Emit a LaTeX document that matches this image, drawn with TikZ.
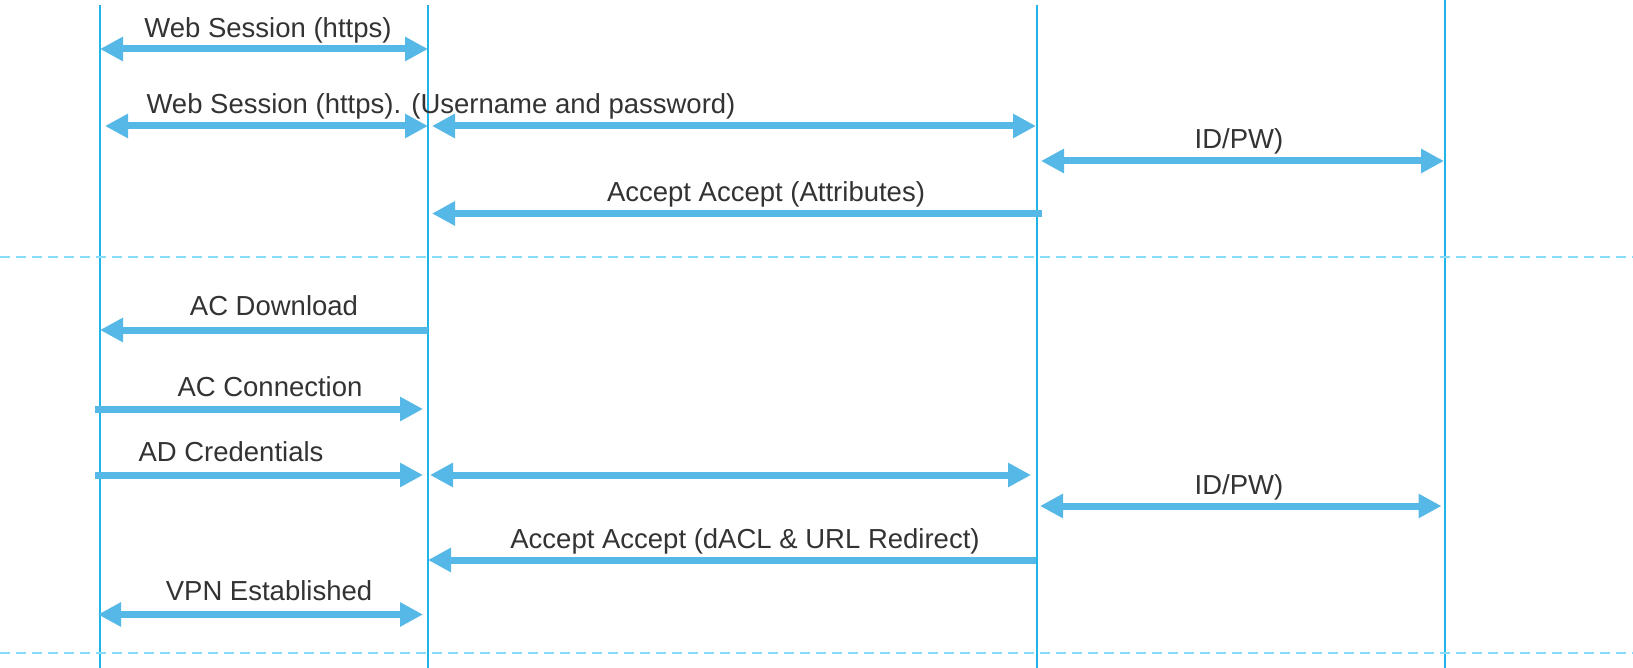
\documentclass[tikz,border=0pt]{standalone}
\usepackage{fontspec}
\setmainfont{Liberation Sans}
\usetikzlibrary{arrows.meta}
\definecolor{life}{HTML}{1FB5E6}
\definecolor{msg}{HTML}{56B8E6}
\definecolor{sep}{HTML}{86DDFB}
\definecolor{txt}{HTML}{333333}
\begin{document}
\begin{tikzpicture}[x=1pt,y=-1pt,
  lifeline/.style={draw=life,line width=2pt},
  sepline/.style={draw=sep,line width=1.5pt,dash pattern=on 10pt off 6pt},
  msgarrow/.style={draw=msg,line width=7pt,-{Triangle[length=23pt,width=23pt]}},
  biarrow/.style={draw=msg,line width=7pt,{Triangle[length=23pt,width=23pt]}-{Triangle[length=23pt,width=23pt]}},
  lbl/.style={font=\fontsize{27.5}{30}\selectfont,text=txt,inner sep=0pt,anchor=base}]
\useasboundingbox[fill=white] (0,0) rectangle (1633,668);
% lifelines
\coordinate (At) at (100,5);  \coordinate (Ab) at (100,668);
\coordinate (Bt) at (428,5);  \coordinate (Bb) at (428,668);
\coordinate (Ct) at (1037,5); \coordinate (Cb) at (1037,668);
\coordinate (Dt) at (1445,0); \coordinate (Db) at (1445,668);
\draw[lifeline] (At) -- (Ab);
\draw[lifeline] (Bt) -- (Bb);
\draw[lifeline] (Ct) -- (Cb);
\draw[lifeline] (Dt) -- (Db);
% separators
\coordinate (S1l) at (0,257); \coordinate (S1r) at (1633,257);
\coordinate (S2l) at (0,653); \coordinate (S2r) at (1633,653);
\draw[sepline] (S1l) -- (S1r);
\draw[sepline] (S2l) -- (S2r);
% message 1
\coordinate (m1a) at (100,49); \coordinate (m1b) at (428,49);
\draw[biarrow] (m1a) -- (m1b);
\node[lbl] (t1) at (268,38) {Web Session (https)};
% message 2
\coordinate (m2a) at (105,126); \coordinate (m2b) at (428,126);
\coordinate (m2c) at (432,126); \coordinate (m2d) at (1036,126);
\draw[biarrow] (m2a) -- (m2b);
\draw[biarrow] (m2c) -- (m2d);
\node[lbl] (t2) at (441,114) {Web Session (https). (Username and password)};
% message 3
\coordinate (m3a) at (1041,161); \coordinate (m3b) at (1444,161);
\draw[biarrow] (m3a) -- (m3b);
\node[lbl] (t3) at (1239,148.5) {ID/PW)};
% message 4
\coordinate (m4a) at (1042,213.5); \coordinate (m4b) at (432,213.5);
\draw[msgarrow] (m4a) -- (m4b);
\node[lbl] (t4) at (766,201.5) {Accept Accept (Attributes)};
% message 5
\coordinate (m5a) at (428,330); \coordinate (m5b) at (100,330);
\draw[msgarrow] (m5a) -- (m5b);
\node[lbl] (t5) at (274,316) {AC Download};
% message 6
\coordinate (m6a) at (95,409); \coordinate (m6b) at (423,409);
\draw[msgarrow] (m6a) -- (m6b);
\node[lbl] (t6) at (270,396) {AC Connection};
% message 7
\coordinate (m7a) at (95,475); \coordinate (m7b) at (423,475);
\coordinate (m7c) at (430,475); \coordinate (m7d) at (1031,475);
\draw[msgarrow] (m7a) -- (m7b);
\draw[biarrow] (m7c) -- (m7d);
\node[lbl] (t7) at (231,461) {AD Credentials};
% message 8
\coordinate (m8a) at (1040,506); \coordinate (m8b) at (1441.5,506);
\draw[biarrow] (m8a) -- (m8b);
\node[lbl] (t8) at (1239,494) {ID/PW)};
% message 9
\coordinate (m9a) at (1036,560); \coordinate (m9b) at (428,560);
\draw[msgarrow] (m9a) -- (m9b);
\node[lbl] (t9) at (745,548.5) {Accept Accept (dACL \& URL Redirect)};
% message 10
\coordinate (m10a) at (98,614.5); \coordinate (m10b) at (423,614.5);
\draw[biarrow] (m10a) -- (m10b);
\node[lbl] (t10) at (269,600.5) {VPN Established};
\end{tikzpicture}
\end{document}
